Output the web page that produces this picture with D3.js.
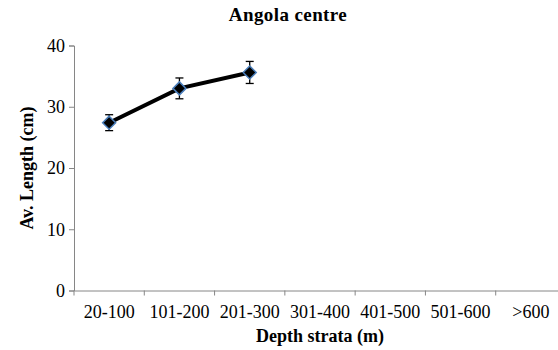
<!DOCTYPE html>
<html>
<head>
<meta charset="utf-8">
<script src="https://cdn.jsdelivr.net/npm/d3@7"></script>
<style>
body { margin: 0; background: #fff; }
svg text { font-family: "Liberation Serif", "Times New Roman", serif !important; }
</style>
</head>
<body>
<div class="chart"></div>
<script>
// depth strata and mean length with error
var strata = ["20-100", "101-200", "201-300", "301-400", "401-500", "501-600", ">600"];
var meanLen = [27.4, 33.0, 35.6];
var errLen = [1.3, 1.7, 1.8];
var yTicks = [0, 10, 20, 30, 40];

var w = 558, h = 350;
var data = meanLen.map(function(v, i) { return { cat: strata[i], v: v, e: errLen[i] }; });

var svg = d3.select(".chart").append("svg")
  .attr("width", w)
  .attr("height", h);

var x = d3.scaleBand().domain(strata).range([74, 566]);
var y = d3.scaleLinear().domain([0, 40]).range([290.5, 45.5]);

var axisCol = "#868686";

// y axis
var gy = svg.append("g").attr("transform", "translate(74,0)")
  .call(d3.axisLeft(y).tickValues(yTicks).tickSize(5).tickPadding(4));
gy.select(".domain").attr("stroke", axisCol);
gy.selectAll(".tick line").attr("stroke", axisCol);
gy.selectAll(".tick text").attr("font-size", 18).attr("fill", "#000");

// x axis
var gx = svg.append("g").attr("transform", "translate(0,290.5)")
  .call(d3.axisBottom(x).tickSize(0).tickPadding(0).tickSizeOuter(0));
gx.select(".domain").attr("stroke", axisCol);
gx.selectAll(".tick line").remove();
gx.selectAll(".tick text").attr("font-size", 18).attr("fill", "#000")
  .attr("dy", null).attr("y", 27.5);
// tick marks at category boundaries
gx.selectAll(".bound").data(strata).enter().append("line")
  .attr("x1", function(d) { return x(d); }).attr("x2", function(d) { return x(d); })
  .attr("y1", 0).attr("y2", 5).attr("stroke", axisCol);

var cx = function(d) { return x(d.cat) + x.bandwidth() / 2; };

// line
svg.append("path").datum(data)
  .attr("fill", "none").attr("stroke", "#000").attr("stroke-width", 4)
  .attr("d", d3.line().x(cx).y(function(d) { return y(d.v); }));

// error bars
var eb = svg.selectAll(".err").data(data).enter().append("g");
eb.append("line").attr("x1", cx).attr("x2", cx)
  .attr("y1", function(d) { return y(d.v + d.e); })
  .attr("y2", function(d) { return y(d.v - d.e); })
  .attr("stroke", "#000").attr("stroke-width", 1.3);
[1, -1].forEach(function(s) {
  eb.append("line")
    .attr("x1", function(d) { return cx(d) - 4; })
    .attr("x2", function(d) { return cx(d) + 4; })
    .attr("y1", function(d) { return y(d.v + s * d.e); })
    .attr("y2", function(d) { return y(d.v + s * d.e); })
    .attr("stroke", "#000").attr("stroke-width", 1.3);
});

// markers
svg.selectAll(".pt").data(data).enter().append("path")
  .attr("transform", function(d) { return "translate(" + cx(d) + "," + y(d.v) + ")"; })
  .attr("d", "M0,-6.5L6.5,0L0,6.5L-6.5,0Z")
  .attr("fill", "#000").attr("stroke", "#4a7ebb").attr("stroke-width", 1.5);

// titles
svg.append("text").attr("x", 288).attr("y", 20.5).attr("text-anchor", "middle")
  .attr("font-size", 19).attr("font-weight", "bold").attr("letter-spacing", 0.4)
  .text("Angola centre");
svg.append("text").attr("x", 320).attr("y", 342).attr("text-anchor", "middle")
  .attr("font-size", 18).attr("font-weight", "bold").text("Depth strata (m)");
svg.append("text").attr("transform", "translate(33,168) rotate(-90)")
  .attr("text-anchor", "middle").attr("font-size", 18).attr("font-weight", "bold")
  .text("Av. Length (cm)");
</script>
</body>
</html>
